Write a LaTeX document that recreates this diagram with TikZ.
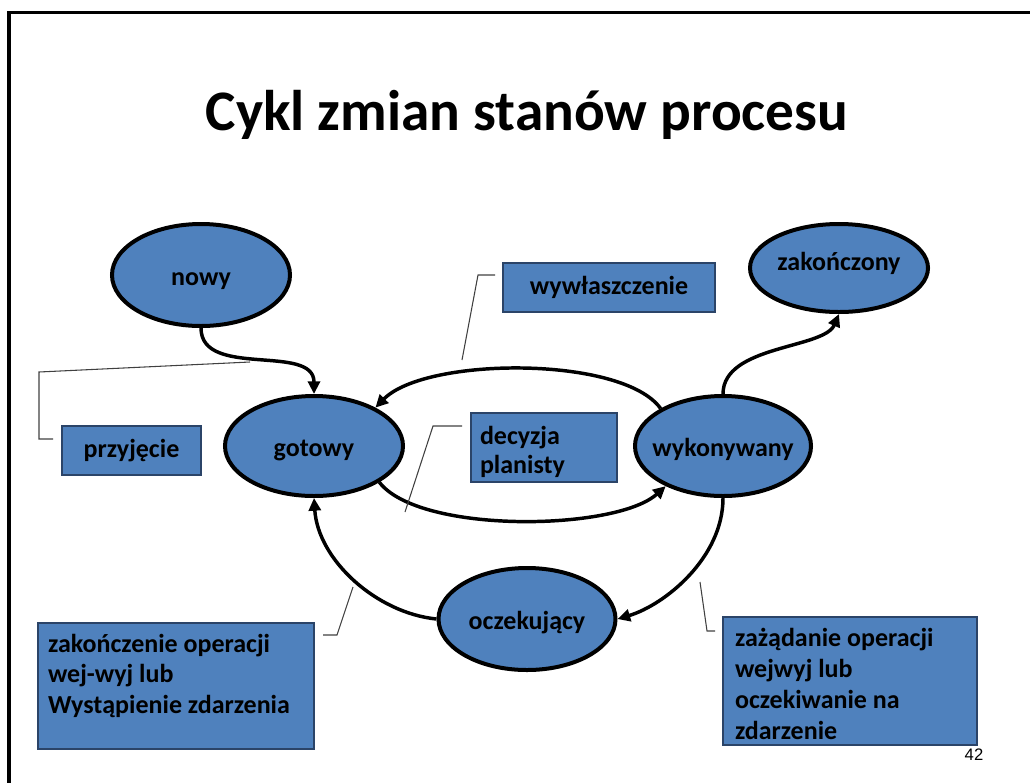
\documentclass[tikz,border=0pt]{standalone}
\usepackage{fontspec}
\setmainfont{Carlito}
\newfontfamily\arialfont{Liberation Sans}
\usetikzlibrary{arrows.meta,shapes.geometric}
\definecolor{ofblue}{HTML}{4F81BD}
\definecolor{boxline}{HTML}{2B4468}
\definecolor{callline}{HTML}{404040}
\newcommand\zw[1]{\makebox[0pt]{#1}}
\begin{document}
\begin{tikzpicture}[x=0.75pt,y=-0.75pt,
  state/.style={ellipse, draw=black, line width=3pt, fill=ofblue, inner sep=0pt,
    text height=16pt, text depth=0pt,
    font=\fontsize{19.5}{23}\selectfont\bfseries},
  lbl/.style={rectangle, draw=boxline, line width=0.8pt, fill=ofblue, inner ysep=0pt,
    font=\fontsize{19.5}{23}\selectfont\bfseries},
  flow/.style={line width=2.6pt, -{Triangle[length=9.5pt,width=9pt]}},
  callout/.style={draw=callline, line width=0.8pt},
]
\useasboundingbox (0,0) rectangle (1030,782);
\draw[line width=2.3pt] (9,790) -- (9,12.5) -- (1040,12.5);

\node[font=\fontsize{43}{50}\selectfont\bfseries, anchor=base] (title) at (527,130) {Cykl zmian stanów procesu};

% states
\node[state, minimum width=133.5pt, minimum height=76.5pt] (nowy) at (201,275) {\zw{nowy}};
\node[state, minimum width=133.5pt, minimum height=66pt, text height=7.5pt, text depth=4.5pt] (zak) at (839,268) {\zw{zakończony}};
\node[state, minimum width=133.5pt, minimum height=75pt] (got) at (314,446) {\zw{gotowy}};
\node[state, minimum width=132pt, minimum height=75pt] (wyk) at (723,446) {\zw{wykonywany}};
\node[state, minimum width=132.75pt, minimum height=76.5pt] (ocz) at (527,619) {\zw{oczekujący}};

% label boxes
\node[lbl, minimum width=159pt, minimum height=36.75pt] (wyw) at (609,287.5) {wywłaszczenie};
\node[lbl, minimum width=104.25pt, minimum height=36.75pt] (prz) at (131.5,450.5) {przyjęcie};
\node[lbl, inner xsep=6.75pt, text height=23.5pt, text depth=28.25pt] (dec) at (544,447.5)
  {\parbox[t]{96pt}{\fontsize{19.5}{21.75}\selectfont decyzja\\planisty}};
\node[lbl, inner xsep=7.5pt, text height=21.75pt, text depth=72.75pt] (zop) at (176,686)
  {\parbox[t]{192pt}{\fontsize{19.5}{22.9}\selectfont zakończenie operacji\\wej-wyj lub\\Wystąpienie zdarzenia}};
\node[lbl, inner xsep=9pt, text height=21.75pt, text depth=74.25pt] (zad) at (850,681)
  {\parbox[t]{172.5pt}{\fontsize{19.5}{23.25}\selectfont zażądanie operacji\\wejwyj lub\\oczekiwanie na\\zdarzenie}};

% transitions
\draw[flow] (nowy.south) .. controls +(0,51) and +(0,-51) .. (got.north);
\draw[flow] (wyk.149) .. controls +(-38,-53) and +(50,-51) .. (got.32);
\draw[flow] (got.-29) .. controls +(40,52) and +(-50,45) .. (wyk.215);
\draw[flow] (wyk.north) .. controls +(0,-49) and +(-15,35) .. (zak.south);
\draw[flow] (wyk.south) .. controls +(0,60) and +(47,-14) .. (ocz.east);
\draw[flow] (ocz.west) .. controls +(-60,-6) and +(4,62) .. (got.south);

% callout lines
\coordinate (c1s) at (53,439);  \coordinate (c1e) at (250,362);
\coordinate (c2s) at (495,275); \coordinate (c2e) at (462,360);
\coordinate (c3s) at (462,426); \coordinate (c3e) at (405,512);
\coordinate (c4s) at (323,635); \coordinate (c4e) at (353,587);
\coordinate (c5s) at (715,631); \coordinate (c5e) at (700,582);
\draw[callout] (c1s) -- (39,439) -- (39,372) -- (c1e);
\draw[callout] (c2s) -- (478,275) -- (c2e);
\draw[callout] (c3s) -- (433,426) -- (c3e);
\draw[callout] (c4s) -- (337,635) -- (c4e);
\draw[callout] (c5s) -- (707,631) -- (c5e);

\node[font=\arialfont\fontsize{12.5}{14}\selectfont] (pg) at (974,755) {42};
\end{tikzpicture}
\end{document}
